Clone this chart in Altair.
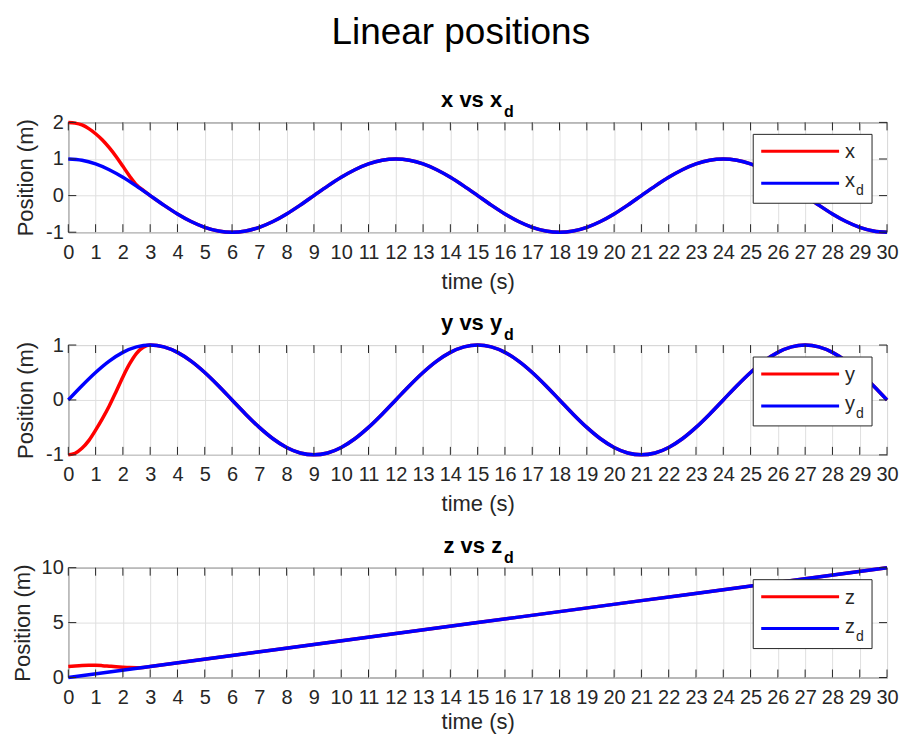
import altair as alt
import pandas as pd

# ---------------- data ----------------
T = [i * 0.5 for i in range(61)]  # time grid, s

XD = [1, 0.966, 0.866, 0.707, 0.5, 0.259, 0, -0.259, -0.5, -0.707, -0.866, -0.966, -1,
      -0.966, -0.866, -0.707, -0.5, -0.259, 0, 0.259, 0.5, 0.707, 0.866, 0.966, 1,
      0.966, 0.866, 0.707, 0.5, 0.259, 0, -0.259, -0.5, -0.707, -0.866, -0.966, -1,
      -0.966, -0.866, -0.707, -0.5, -0.259, 0, 0.259, 0.5, 0.707, 0.866, 0.966, 1,
      0.966, 0.866, 0.707, 0.5, 0.259, 0, -0.259, -0.5, -0.707, -0.866, -0.966, -1]

YD = [0, 0.259, 0.5, 0.707, 0.866, 0.966, 1, 0.966, 0.866, 0.707, 0.5, 0.259, 0,
      -0.259, -0.5, -0.707, -0.866, -0.966, -1, -0.966, -0.866, -0.707, -0.5, -0.259, 0,
      0.259, 0.5, 0.707, 0.866, 0.966, 1, 0.966, 0.866, 0.707, 0.5, 0.259, 0,
      -0.259, -0.5, -0.707, -0.866, -0.966, -1, -0.966, -0.866, -0.707, -0.5, -0.259, 0,
      0.259, 0.5, 0.707, 0.866, 0.966, 1, 0.966, 0.866, 0.707, 0.5, 0.259, 0]

TZ = [0, 3, 6, 9, 12, 15, 18, 21, 24, 27, 30]
ZD = [0, 1, 2, 3, 4, 5, 6, 7, 8, 9, 10]

# actual trajectories during the transient (after ~3 s they lie on the desired ones)
T_EARLY = [0, 0.25, 0.5, 0.75, 1, 1.25, 1.5, 1.75, 2, 2.25, 2.5, 2.75, 3]
X_EARLY = [2.0, 1.98, 1.93, 1.83, 1.69, 1.52, 1.31, 1.07, 0.80, 0.53, 0.29, 0.14, 0.0]
Y_EARLY = [-1.0, -0.97, -0.88, -0.74, -0.55, -0.34, -0.11, 0.15, 0.42, 0.66, 0.85, 0.96, 1.0]
Z_EARLY = [1.0, 1.05, 1.09, 1.11, 1.11, 1.08, 1.03, 0.98, 0.94, 0.91, 0.90, 0.92, 1.0]

X_T = T_EARLY + T[7:]
X_ACT = X_EARLY + XD[7:]
Y_T = T_EARLY + T[7:]
Y_ACT = Y_EARLY + YD[7:]
Z_T = T_EARLY + TZ[2:]
Z_ACT = Z_EARLY + ZD[2:]

XTICKS = list(range(31))

# ---------------- style ----------------
FONT = "Liberation Sans"
W, H = 820, 110
RED = "#ff0000"
BLUE = "#0000ff"
BOX = "#262626"
GRID = "#dfdfdf"
TICK_LEN = 8
TITLE_X = 434.5


def panel(t_act, v_act, t_des, v_des, ydom, yticks, name, ytitle_x, xtitle_y):
    xs = alt.Scale(domain=[0, 30], nice=False, zero=False)
    ys = alt.Scale(domain=ydom, nice=False, zero=False)
    xenc = alt.X("t:Q", scale=xs,
                 axis=alt.Axis(values=XTICKS, title="time (s)", titleY=xtitle_y,
                               titleBaseline="alphabetic", labelPadding=10, grid=True))
    yenc = alt.Y("v:Q", scale=ys,
                 axis=alt.Axis(values=yticks, title="Position (m)", titleX=ytitle_x,
                               titleY=H / 2, titleAngle=270, titleAlign="center",
                               titleBaseline="alphabetic", labelPadding=5, grid=True,
                               labelExpr="datum.value < 0 ? '-' + abs(datum.value) : '' + datum.value"))
    one = pd.DataFrame({"k": [0]})

    act = alt.Chart(pd.DataFrame({"t": t_act, "v": v_act})).mark_line(
        color=RED, strokeWidth=3.5, interpolate="monotone").encode(x=xenc, y=yenc)
    des = alt.Chart(pd.DataFrame({"t": t_des, "v": v_des})).mark_line(
        color=BLUE, strokeWidth=3.5, interpolate="monotone").encode(x=xenc, y=yenc)

    xt = alt.Chart(pd.DataFrame({"t": XTICKS}))
    yt = alt.Chart(pd.DataFrame({"v": yticks}))
    ticks = [
        xt.mark_rule(color=BOX, strokeWidth=1).encode(x=xenc, y=alt.value(0), y2=alt.value(TICK_LEN)),
        xt.mark_rule(color=BOX, strokeWidth=1).encode(x=xenc, y=alt.value(H - TICK_LEN), y2=alt.value(H)),
        yt.mark_rule(color=BOX, strokeWidth=1).encode(y=yenc, x=alt.value(0), x2=alt.value(TICK_LEN)),
        yt.mark_rule(color=BOX, strokeWidth=1).encode(y=yenc, x=alt.value(W - TICK_LEN), x2=alt.value(W)),
    ]

    base = alt.Chart(one)
    legend = [
        base.mark_rect(fill="white", stroke=BOX, strokeWidth=1).encode(
            x=alt.value(686), x2=alt.value(805), y=alt.value(12), y2=alt.value(81)),
        base.mark_rule(color=RED, strokeWidth=3).encode(x=alt.value(694), x2=alt.value(772), y=alt.value(29)),
        base.mark_rule(color=BLUE, strokeWidth=3).encode(x=alt.value(694), x2=alt.value(772), y=alt.value(61)),
        base.mark_text(text=name, align="left", baseline="alphabetic", font=FONT, fontSize=20,
                       color=BOX).encode(x=alt.value(778), y=alt.value(36)),
        base.mark_text(text=name, align="left", baseline="alphabetic", font=FONT, fontSize=20,
                       color=BOX).encode(x=alt.value(778), y=alt.value(65)),
        base.mark_text(text="d", align="left", baseline="alphabetic", font=FONT, fontSize=14,
                       color=BOX).encode(x=alt.value(789), y=alt.value(73)),
    ]
    title = [
        base.mark_text(text=f"{name} vs {name}", align="right", baseline="alphabetic", font=FONT,
                       fontSize=22, fontWeight="bold", color="black").encode(
            x=alt.value(TITLE_X), y=alt.value(-15)),
        base.mark_text(text="d", align="left", baseline="alphabetic", font=FONT,
                       fontSize=16, fontWeight="bold", color="black").encode(
            x=alt.value(TITLE_X + 2), y=alt.value(-5)),
    ]
    return alt.layer(act, des, *ticks, *legend, *title).properties(width=W, height=H)


p1 = panel(X_T, X_ACT, T, XD, [-1, 2], [-1, 0, 1, 2], "x", -36, 56)
p2 = panel(Y_T, Y_ACT, T, YD, [-1, 1], [-1, 0, 1], "y", -36, 56)
p3 = panel(Z_T, Z_ACT, TZ, ZD, [0, 10], [0, 5, 10], "z", -39, 51)

chart = alt.vconcat(p1, p2, p3, spacing=18).properties(
    title=alt.TitleParams("Linear positions", font=FONT, fontSize=37, fontWeight="normal",
                          color="black", anchor="middle", offset=37, dx=6),
    padding={"left": 2.4, "top": 5, "right": 0, "bottom": 0},
).configure_view(stroke=BOX, strokeWidth=1).configure_axis(
    domain=False, ticks=False, tickSize=0, labelFont=FONT, labelFontSize=20, labelColor=BOX,
    titleFont=FONT, titleFontSize=22, titleFontWeight="normal", titleColor=BOX,
    gridColor=GRID, gridWidth=1, labelOverlap=False, labelFlush=False,
)

chart.save("out.html", embed_options={"renderer": "svg", "actions": False})
